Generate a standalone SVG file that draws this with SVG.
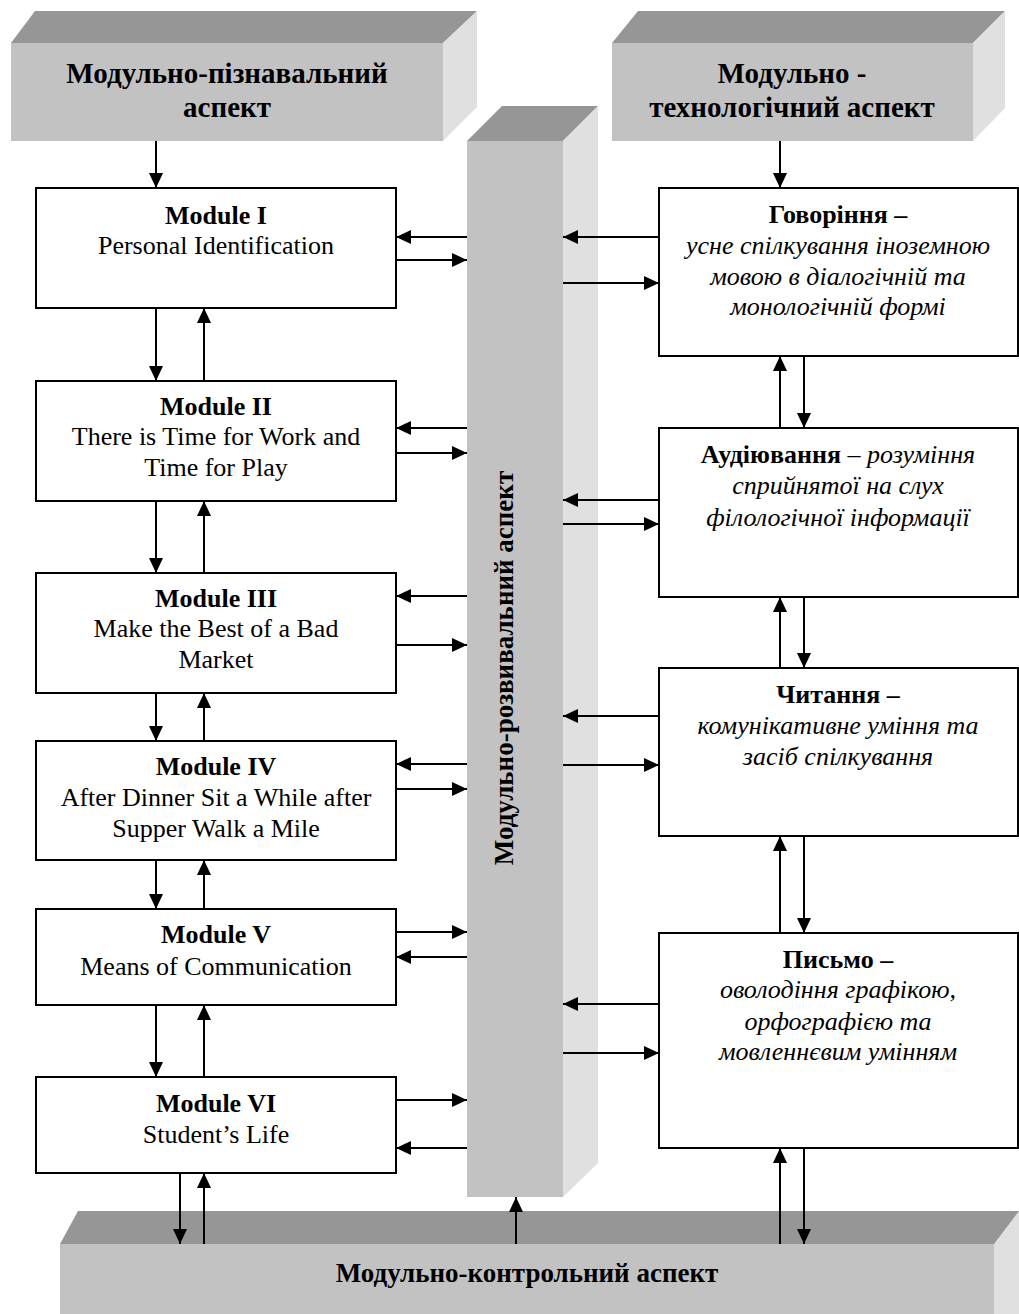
<svg xmlns="http://www.w3.org/2000/svg" width="1019" height="1314" viewBox="0 0 1019 1314">
<defs>
<style>
.top{fill:#969696}
.front{fill:#c2c2c2}
.side{fill:#e0e0e0}
.box{fill:#ffffff;stroke:#000;stroke-width:2}
.ln{stroke:#000;stroke-width:2;fill:none;marker-end:url(#ah)}
text{font-family:"Liberation Serif","Times New Roman",serif;fill:#000;text-anchor:middle}
.h{font-size:29px;font-weight:bold}
.hv{font-size:27px;font-weight:bold}
.t{font-size:26px;font-weight:bold}
.b{font-size:26px}
.i{font-size:26px;font-style:italic}
</style>
<marker id="ah" markerUnits="userSpaceOnUse" markerWidth="15" markerHeight="14" refX="15" refY="7" orient="auto">
<path d="M0,0 L15,7 L0,14 Z" fill="#000"/>
</marker>
</defs>
<rect width="1019" height="1314" fill="#fff"/>

<g id="aspect-cognitive">
<polygon class="top" points="11,43 35,11 477,11 443,43"/>
<polygon class="side" points="443,43 477,11 477,107 443,141"/>
<rect class="front" x="11" y="43" width="432" height="98"/>
<text class="h" x="227" y="83">Модульно-пізнавальний</text>
<text class="h" x="227" y="117">аспект</text>
</g>

<g id="aspect-technological">
<polygon class="top" points="612,43 638,11 1005,11 973,43"/>
<polygon class="side" points="973,43 1005,11 1005,108 973,141"/>
<rect class="front" x="612" y="43" width="361" height="98"/>
<text class="h" x="792" y="83">Модульно -</text>
<text class="h" x="792" y="117">технологічний аспект</text>
</g>

<g id="aspect-developmental">
<polygon class="top" points="467,141 502,106 598,106 563,141"/>
<polygon class="side" points="563,141 598,106 598,1163 563,1197"/>
<rect class="front" x="467" y="141" width="96" height="1056"/>
<text class="hv" x="513" y="668" transform="rotate(-90 513 668)">Модульно-розвивальний аспект</text>
</g>

<g id="aspect-control">
<polygon class="top" points="60,1244 78,1211 1040,1211 1020,1244"/>
<polygon class="side" points="994,1244 1019,1211 1019,1314 994,1314"/>
<rect class="front" x="60" y="1244" width="934" height="70"/>
<text class="hv" x="527" y="1282">Модульно-контрольний аспект</text>
</g>

<g id="module-1">
<rect class="box" x="36" y="188" width="360" height="120"/>
<text class="t" x="216" y="224">Module I</text>
<text class="b" x="216" y="254">Personal Identification</text>
</g>
<g id="module-2">
<rect class="box" x="36" y="381" width="360" height="120"/>
<text class="t" x="216" y="415">Module II</text>
<text class="b" x="216" y="445">There is Time for Work and</text>
<text class="b" x="216" y="476">Time for Play</text>
</g>
<g id="module-3">
<rect class="box" x="36" y="573" width="360" height="120"/>
<text class="t" x="216" y="607">Module III</text>
<text class="b" x="216" y="637">Make the Best of a Bad</text>
<text class="b" x="216" y="668">Market</text>
</g>
<g id="module-4">
<rect class="box" x="36" y="741" width="360" height="119"/>
<text class="t" x="216" y="775">Module IV</text>
<text class="b" x="216" y="806">After Dinner Sit a While after</text>
<text class="b" x="216" y="837">Supper Walk a Mile</text>
</g>
<g id="module-5">
<rect class="box" x="36" y="909" width="360" height="96"/>
<text class="t" x="216" y="943">Module V</text>
<text class="b" x="216" y="975">Means of Communication</text>
</g>
<g id="module-6">
<rect class="box" x="36" y="1077" width="360" height="96"/>
<text class="t" x="216" y="1112">Module VI</text>
<text class="b" x="216" y="1143">Student’s Life</text>
</g>

<g id="speaking">
<rect class="box" x="659" y="188" width="359" height="168"/>
<text class="t" x="838" y="223">Говоріння –</text>
<text class="i" x="838" y="254">усне спілкування іноземною</text>
<text class="i" x="838" y="285">мовою в діалогічній та</text>
<text class="i" x="838" y="315">монологічній формі</text>
</g>
<g id="listening">
<rect class="box" x="659" y="428" width="359" height="169"/>
<text x="838" y="463"><tspan class="t">Аудіювання</tspan><tspan class="b"> – </tspan><tspan class="i">розуміння</tspan></text>
<text class="i" x="838" y="494">сприйнятої на слух</text>
<text class="i" x="838" y="526">філологічної інформації</text>
</g>
<g id="reading">
<rect class="box" x="659" y="668" width="359" height="168"/>
<text class="t" x="838" y="703">Читання –</text>
<text class="i" x="838" y="734">комунікативне уміння та</text>
<text class="i" x="838" y="765">засіб спілкування</text>
</g>
<g id="writing">
<rect class="box" x="659" y="933" width="359" height="215"/>
<text class="t" x="838" y="968">Письмо –</text>
<text class="i" x="838" y="998">оволодіння графікою,</text>
<text class="i" x="838" y="1030">орфографією та</text>
<text class="i" x="838" y="1060">мовленнєвим умінням</text>
</g>

<g id="connectors">
<line class="ln" x1="156" y1="141" x2="156" y2="188"/>
<line class="ln" x1="156" y1="308" x2="156" y2="381"/>
<line class="ln" x1="204" y1="381" x2="204" y2="308"/>
<line class="ln" x1="156" y1="501" x2="156" y2="573"/>
<line class="ln" x1="204" y1="573" x2="204" y2="501"/>
<line class="ln" x1="156" y1="693" x2="156" y2="741"/>
<line class="ln" x1="204" y1="741" x2="204" y2="693"/>
<line class="ln" x1="156" y1="860" x2="156" y2="909"/>
<line class="ln" x1="204" y1="909" x2="204" y2="860"/>
<line class="ln" x1="156" y1="1005" x2="156" y2="1077"/>
<line class="ln" x1="204" y1="1077" x2="204" y2="1005"/>
<line class="ln" x1="180" y1="1173" x2="180" y2="1244"/>
<line class="ln" x1="204" y1="1244" x2="204" y2="1173"/>

<line class="ln" x1="467" y1="237" x2="396" y2="237"/>
<line class="ln" x1="396" y1="260" x2="467" y2="260"/>
<line class="ln" x1="467" y1="428" x2="396" y2="428"/>
<line class="ln" x1="396" y1="453" x2="467" y2="453"/>
<line class="ln" x1="467" y1="596" x2="396" y2="596"/>
<line class="ln" x1="396" y1="645" x2="467" y2="645"/>
<line class="ln" x1="467" y1="764" x2="396" y2="764"/>
<line class="ln" x1="396" y1="789" x2="467" y2="789"/>
<line class="ln" x1="396" y1="932" x2="467" y2="932"/>
<line class="ln" x1="467" y1="957" x2="396" y2="957"/>
<line class="ln" x1="396" y1="1100" x2="467" y2="1100"/>
<line class="ln" x1="467" y1="1148" x2="396" y2="1148"/>

<line class="ln" x1="659" y1="237" x2="563" y2="237"/>
<line class="ln" x1="563" y1="283" x2="659" y2="283"/>
<line class="ln" x1="659" y1="500" x2="563" y2="500"/>
<line class="ln" x1="563" y1="524" x2="659" y2="524"/>
<line class="ln" x1="659" y1="716" x2="563" y2="716"/>
<line class="ln" x1="563" y1="765" x2="659" y2="765"/>
<line class="ln" x1="659" y1="1004" x2="563" y2="1004"/>
<line class="ln" x1="563" y1="1053" x2="659" y2="1053"/>

<line class="ln" x1="780" y1="141" x2="780" y2="188"/>
<line class="ln" x1="780" y1="428" x2="780" y2="356"/>
<line class="ln" x1="804" y1="356" x2="804" y2="428"/>
<line class="ln" x1="780" y1="668" x2="780" y2="597"/>
<line class="ln" x1="804" y1="597" x2="804" y2="668"/>
<line class="ln" x1="780" y1="933" x2="780" y2="836"/>
<line class="ln" x1="804" y1="836" x2="804" y2="933"/>
<line class="ln" x1="780" y1="1244" x2="780" y2="1148"/>
<line class="ln" x1="804" y1="1148" x2="804" y2="1244"/>

<line class="ln" x1="516" y1="1244" x2="516" y2="1197"/>
</g>
</svg>
